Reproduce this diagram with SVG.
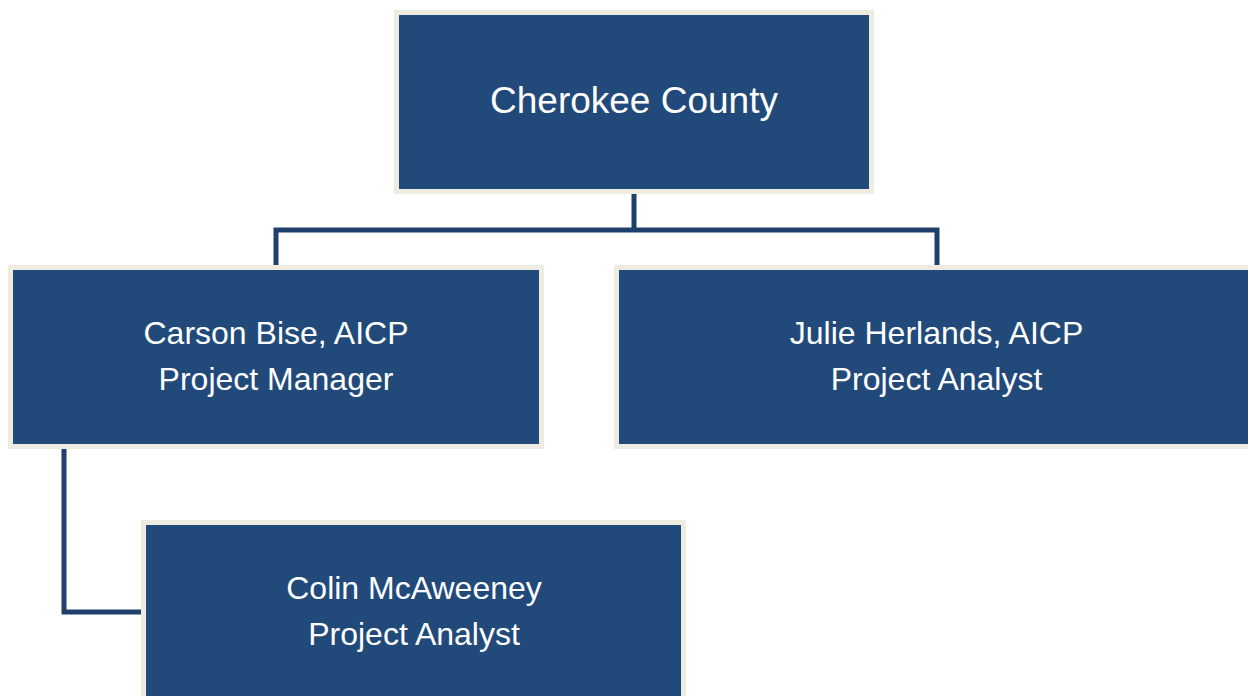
<svg xmlns="http://www.w3.org/2000/svg" width="1248" height="696" viewBox="0 0 1248 696">
  <style>
    .box { fill: #214A7B; stroke: #EEEBE0; stroke-width: 5; }
    .link { fill: none; stroke: #1F3F6D; stroke-width: 5; stroke-linejoin: miter; }
    .label { fill: #FFFFFF; font-family: "Liberation Sans", Arial, sans-serif; text-anchor: middle; }
  </style>
  <rect width="1248" height="696" fill="#FFFFFF"/>

  <!-- reporting lines -->
  <g id="connectors">
    <path class="link" d="M634,194 V230"/>
    <path class="link" d="M276,265 V230 H937 V265"/>
    <path class="link" d="M64,449 V612 H141"/>
  </g>

  <g id="node-county">
    <rect class="box" x="396.5" y="12.5" width="475" height="179"/>
    <text class="label" x="634" y="113" font-size="37">Cherokee County</text>
  </g>

  <g id="node-bise">
    <rect class="box" x="10.5" y="267.5" width="531" height="179"/>
    <text class="label" x="276" y="344" font-size="32">Carson Bise, AICP</text>
    <text class="label" x="276" y="390" font-size="32">Project Manager</text>
  </g>

  <g id="node-herlands">
    <rect class="box" x="616.5" y="267.5" width="640" height="179"/>
    <text class="label" x="936.5" y="344" font-size="32">Julie Herlands, AICP</text>
    <text class="label" x="936.5" y="390" font-size="32">Project Analyst</text>
  </g>

  <g id="node-mcaweeney">
    <rect class="box" x="143.5" y="522.5" width="540" height="200"/>
    <text class="label" x="414" y="599" font-size="32">Colin McAweeney</text>
    <text class="label" x="414" y="645" font-size="32">Project Analyst</text>
  </g>
</svg>
